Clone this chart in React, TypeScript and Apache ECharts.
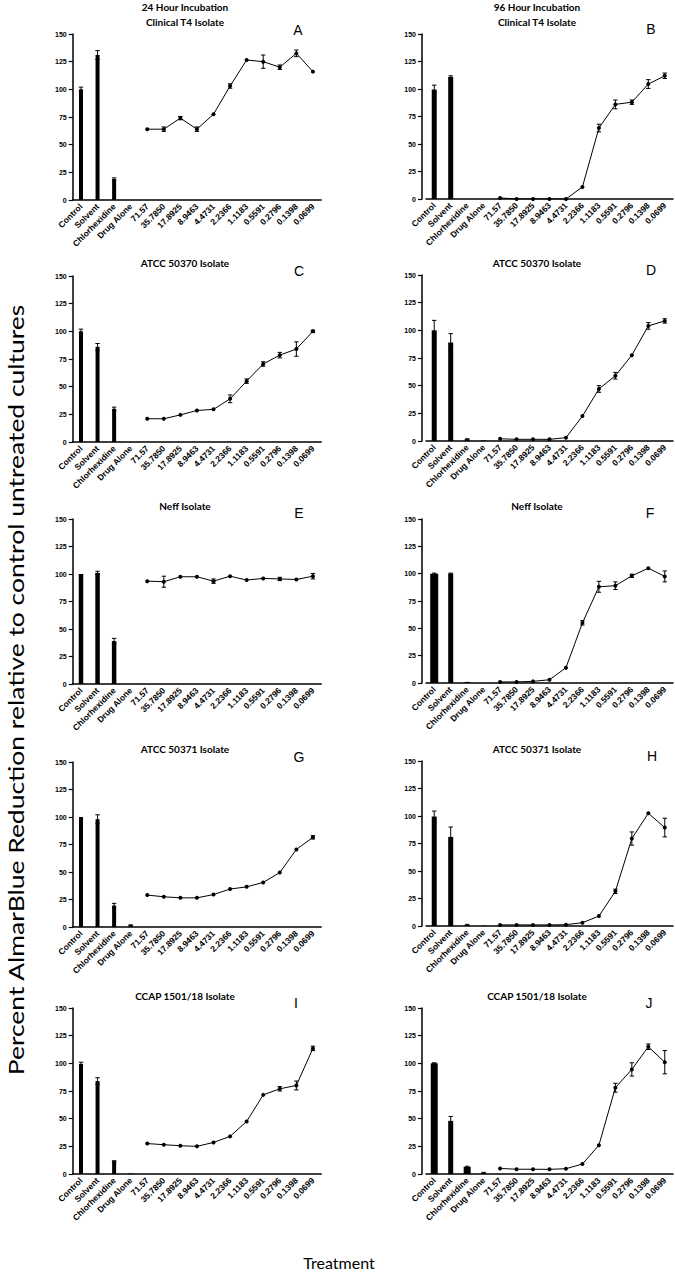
import React, { useEffect, useRef } from "react";
import * as echarts from "echarts";

const categories = [
  "Control", "Solvent", "Chlorhexidine", "Drug Alone",
  "71.57", "35.7850", "17.8925", "8.9463", "4.4731", "2.2366",
  "1.1183", "0.5591", "0.2796", "0.1398", "0.0699",
];
const yTicks = [0, 25, 50, 75, 100, 125, 150];

// Panel A: 24 h, Clinical T4
const barsA = [100, 131, 19, 0];
const barErrA = [2, 4, 1, 0];
const lineA = [64, 64, 74, 64, 77.5, 103, 126.5, 125, 120, 132.5, 116];
const lineErrA = [0, 2, 1.5, 2, 0, 2, 0, 6, 2, 3, 0];
// Panel B: 96 h, Clinical T4
const barsB = [99.5, 111, 0, 0];
const barErrB = [4, 1, 0, 0];
const lineB = [1, 0, 0, 0, 0, 11, 64.5, 86, 88, 104.5, 112];
const lineErrB = [0, 0, 0, 0, 0, 0, 3.5, 4, 2, 4, 2.5];
// Panel C: ATCC 50370, 24 h
const barsC = [100, 86, 30, 0];
const barErrC = [2, 3, 1.5, 0];
const lineC = [21, 21, 24.5, 28.5, 29.5, 39, 55, 70.5, 78.5, 84, 100];
const lineErrC = [0, 0, 0, 0, 0, 3.5, 2, 2, 2.5, 6.5, 1];
// Panel D: ATCC 50370, 96 h
const barsD = [100, 89, 1.5, 0.5];
const barErrD = [9, 8, 0.5, 0];
const lineD = [2, 1.5, 1.5, 1.5, 3, 22.5, 47, 59, 77.5, 104, 108.5];
const lineErrD = [0, 0, 0, 0, 0, 0, 3, 3, 0, 3, 2];
// Panel E: Neff, 24 h
const barsE = [100, 101, 39, 0];
const barErrE = [0, 1.5, 2.5, 0];
const lineE = [93.5, 93, 97.5, 97.5, 93.5, 98, 94.5, 96, 95.5, 95, 98];
const lineErrE = [0, 5, 0, 0, 2, 0, 0, 0, 1.5, 0, 2.5];
// Panel F: Neff, 96 h
const barsF = [100, 100, 1, 0];
const barErrF = [0.5, 0.5, 0, 0];
const lineF = [1, 1, 1.5, 3, 14, 55, 88, 89, 98, 105, 97.5];
const lineErrF = [0, 0, 0, 0, 0, 2, 5, 3.5, 1.5, 0, 5];
// Panel G: ATCC 50371, 24 h
const barsG = [100, 98, 19.5, 1.5];
const barErrG = [0, 4, 2, 0.5];
const lineG = [29, 27.5, 26.5, 26.5, 29.5, 34.5, 36.5, 40.5, 49.5, 70.5, 81.5];
const lineErrG = [0, 0, 0, 0, 0, 0, 0, 0, 0, 0, 1.5];
// Panel H: ATCC 50371, 96 h
const barsH = [99.5, 81, 1, 0.3];
const barErrH = [5, 9, 0.5, 0];
const lineH = [1, 1, 1, 1, 1.2, 3, 9, 31.5, 79.5, 102.5, 89.5];
const lineErrH = [0, 0, 0, 0, 0, 0, 0, 2, 6, 0, 8.5];
// Panel I: CCAP 1501/18, 24 h
const barsI = [99.5, 84, 11.5, 0.5];
const barErrI = [1.5, 3, 0.5, 0];
const lineI = [27.5, 26.5, 25.5, 25, 28.5, 34, 47.5, 71.5, 77, 80, 113.5];
const lineErrI = [0, 0, 0, 0, 0, 0, 0, 0, 2, 4, 2];
// Panel J: CCAP 1501/18, 96 h
const barsJ = [100, 48, 6.5, 1];
const barErrJ = [0.5, 4, 0.5, 0.5];
const lineJ = [5, 4.3, 4.3, 4.2, 4.8, 9, 26, 78, 94.5, 115, 101];
const lineErrJ = [0, 0, 0, 0, 0, 0, 0, 4, 6, 2.5, 10.5];

const panelLetters = ["A", "B", "C", "D", "E", "F", "G", "H", "I", "J"];
const panelTitles = [
  ["24 Hour Incubation", "Clinical T4 Isolate"],
  ["96 Hour Incubation", "Clinical T4 Isolate"],
  ["ATCC 50370 Isolate"], ["ATCC 50370 Isolate"],
  ["Neff Isolate"], ["Neff Isolate"],
  ["ATCC 50371 Isolate"], ["ATCC 50371 Isolate"],
  ["CCAP 1501/18 Isolate"], ["CCAP 1501/18 Isolate"],
];
const yAxisTitle = "Percent AlmarBlue Reduction relative to control untreated cultures";
const xAxisTitle = "Treatment";

const panelBars = [barsA, barsB, barsC, barsD, barsE, barsF, barsG, barsH, barsI, barsJ];
const panelBarErr = [barErrA, barErrB, barErrC, barErrD, barErrE, barErrF, barErrG, barErrH, barErrI, barErrJ];
const panelLine = [lineA, lineB, lineC, lineD, lineE, lineF, lineG, lineH, lineI, lineJ];
const panelLineErr = [lineErrA, lineErrB, lineErrC, lineErrD, lineErrE, lineErrF, lineErrG, lineErrH, lineErrI, lineErrJ];

// Layout (pixels)
const gridTop = [34, 34, 276, 275, 519, 519, 762, 761, 1008, 1008];
const gridZero = [200, 199, 442, 441, 684, 683, 927, 926, 1174, 1174];
const barWidths = [
  [4, 4, 4, 4], [5, 5, 5, 5], [4, 4, 4, 4], [5, 5, 5, 5], [4.5, 4.5, 4.5, 4.5],
  [8, 5, 5, 5], [4, 4, 4, 4], [5, 5, 5, 5], [4, 4, 4, 4], [7, 5, 7, 5],
];
const titleY = [7, 7, 263, 263, 506, 506, 749, 749, 996, 996];
const letterPos = [
  [298, 30], [651, 29], [299, 271], [651, 270], [299, 513],
  [650, 513], [299, 757], [652, 756], [296, 1003], [649, 1003],
];

const BLACK = "#000";

function errorRender(params: any, api: any) {
  const x = api.value(0);
  const lo = api.coord([x, api.value(1)]);
  const hi = api.coord([x, api.value(2)]);
  const c = 2.2;
  const st = { stroke: BLACK, lineWidth: 1 };
  return {
    type: "group",
    children: [
      { type: "line", shape: { x1: lo[0], y1: lo[1], x2: hi[0], y2: hi[1] }, style: st },
      { type: "line", shape: { x1: lo[0] - c, y1: lo[1], x2: lo[0] + c, y2: lo[1] }, style: st },
      { type: "line", shape: { x1: hi[0] - c, y1: hi[1], x2: hi[0] + c, y2: hi[1] }, style: st },
    ],
  };
}

function buildOption() {
  const grid: any[] = [];
  const xAxis: any[] = [];
  const yAxis: any[] = [];
  const series: any[] = [];
  const graphic: any[] = [];

  for (let i = 0; i < 10; i++) {
    const col = i % 2;
    const left = col === 0 ? 72.7 : 426;
    const width = col === 0 ? 248.5 : 247;
    grid.push({ left, top: gridTop[i], width, height: gridZero[i] - gridTop[i], containLabel: false });
    xAxis.push({
      type: "category",
      gridIndex: i,
      data: categories,
      boundaryGap: true,
      axisLine: { lineStyle: { color: BLACK, width: 1.5 } },
      axisTick: { alignWithLabel: true, length: 4, lineStyle: { color: BLACK, width: 1.2 } },
      axisLabel: {
        rotate: 45, interval: 0, fontSize: 8.5, fontWeight: "bold",
        fontFamily: "Liberation Sans, Arial, sans-serif", color: BLACK, margin: 5,
      },
      splitLine: { show: false },
    });
    yAxis.push({
      type: "value",
      gridIndex: i,
      min: yTicks[0],
      max: yTicks[yTicks.length - 1],
      interval: yTicks[1] - yTicks[0],
      offset: col === 0 ? 0 : 4,
      axisLine: { show: true, lineStyle: { color: BLACK, width: 1.5 } },
      axisTick: { show: true, length: 4, lineStyle: { color: BLACK, width: 1.2 } },
      axisLabel: {
        fontSize: 7, fontWeight: "bold", fontFamily: "Liberation Sans, Arial, sans-serif",
        color: BLACK, margin: 6,
      },
      splitLine: { show: false },
    });

    const bw = barWidths[i];
    series.push({
      type: "custom",
      xAxisIndex: i,
      yAxisIndex: i,
      data: panelBars[i].map((v, j) => [j, v]),
      encode: { x: 0, y: 1 },
      renderItem: (params: any, api: any) => {
        const idx = api.value(0);
        const top = api.coord([idx, api.value(1)]);
        const base = api.coord([idx, 0]);
        const w = bw[idx];
        return {
          type: "rect",
          shape: { x: top[0] - w / 2, y: top[1], width: w, height: base[1] - top[1] },
          style: { fill: BLACK },
        };
      },
      silent: true,
    });
    series.push({
      type: "custom",
      xAxisIndex: i,
      yAxisIndex: i,
      data: panelBars[i]
        .map((v, j) => [j, v - panelBarErr[i][j], v + panelBarErr[i][j], panelBarErr[i][j]])
        .filter((d) => d[3] > 0),
      encode: { x: 0, y: [1, 2] },
      renderItem: errorRender,
      silent: true,
    });
    series.push({
      type: "line",
      xAxisIndex: i,
      yAxisIndex: i,
      data: panelLine[i].map((v, j) => [j + 4, v]),
      symbol: "circle",
      symbolSize: 4,
      showSymbol: true,
      lineStyle: { color: BLACK, width: 1 },
      itemStyle: { color: BLACK },
      silent: true,
      z: 3,
    });
    series.push({
      type: "custom",
      xAxisIndex: i,
      yAxisIndex: i,
      data: panelLine[i]
        .map((v, j) => [j + 4, v - panelLineErr[i][j], v + panelLineErr[i][j], panelLineErr[i][j]])
        .filter((d) => d[3] > 0),
      encode: { x: 0, y: [1, 2] },
      renderItem: errorRender,
      silent: true,
      z: 4,
    });

    const cx = col === 0 ? 185 : 537;
    panelTitles[i].forEach((t, k) => {
      graphic.push({
        type: "text",
        x: cx,
        y: titleY[i] + k * 15,
        style: {
          text: t, fill: BLACK, font: "bold 10px Lato, 'Noto Sans', sans-serif",
          textAlign: "center", textVerticalAlign: "middle",
        },
      });
    });
    graphic.push({
      type: "text",
      x: letterPos[i][0],
      y: letterPos[i][1],
      style: {
        text: panelLetters[i], fill: BLACK, font: "14px 'Liberation Sans', Arial, sans-serif",
        textAlign: "center", textVerticalAlign: "middle",
      },
    });
  }

  graphic.push({
    type: "text",
    x: 16,
    y: 690,
    rotation: Math.PI / 2,
    scaleX: 1.26,
    style: {
      text: yAxisTitle, fill: BLACK, font: "21px Lato, 'Noto Sans', sans-serif",
      textAlign: "center", textVerticalAlign: "middle",
    },
  });
  graphic.push({
    type: "text",
    x: 339,
    y: 1262,
    style: {
      text: xAxisTitle, fill: BLACK, font: "16px Lato, 'Noto Sans', sans-serif",
      textAlign: "center", textVerticalAlign: "middle",
    },
  });

  return {
    animation: false,
    backgroundColor: "#fff",
    grid,
    xAxis,
    yAxis,
    series,
    graphic,
  };
}

export default function App() {
  const ref = useRef<HTMLDivElement>(null);
  useEffect(() => {
    if (!ref.current) return;
    const chart = echarts.init(ref.current, null, { renderer: "svg" });
    chart.setOption(buildOption() as any);
    return () => chart.dispose();
  }, []);
  return (
    <div
      ref={ref}
      style={{ position: "absolute", left: 0, top: 0, width: 675, height: 1273, background: "#fff" }}
    />
  );
}
